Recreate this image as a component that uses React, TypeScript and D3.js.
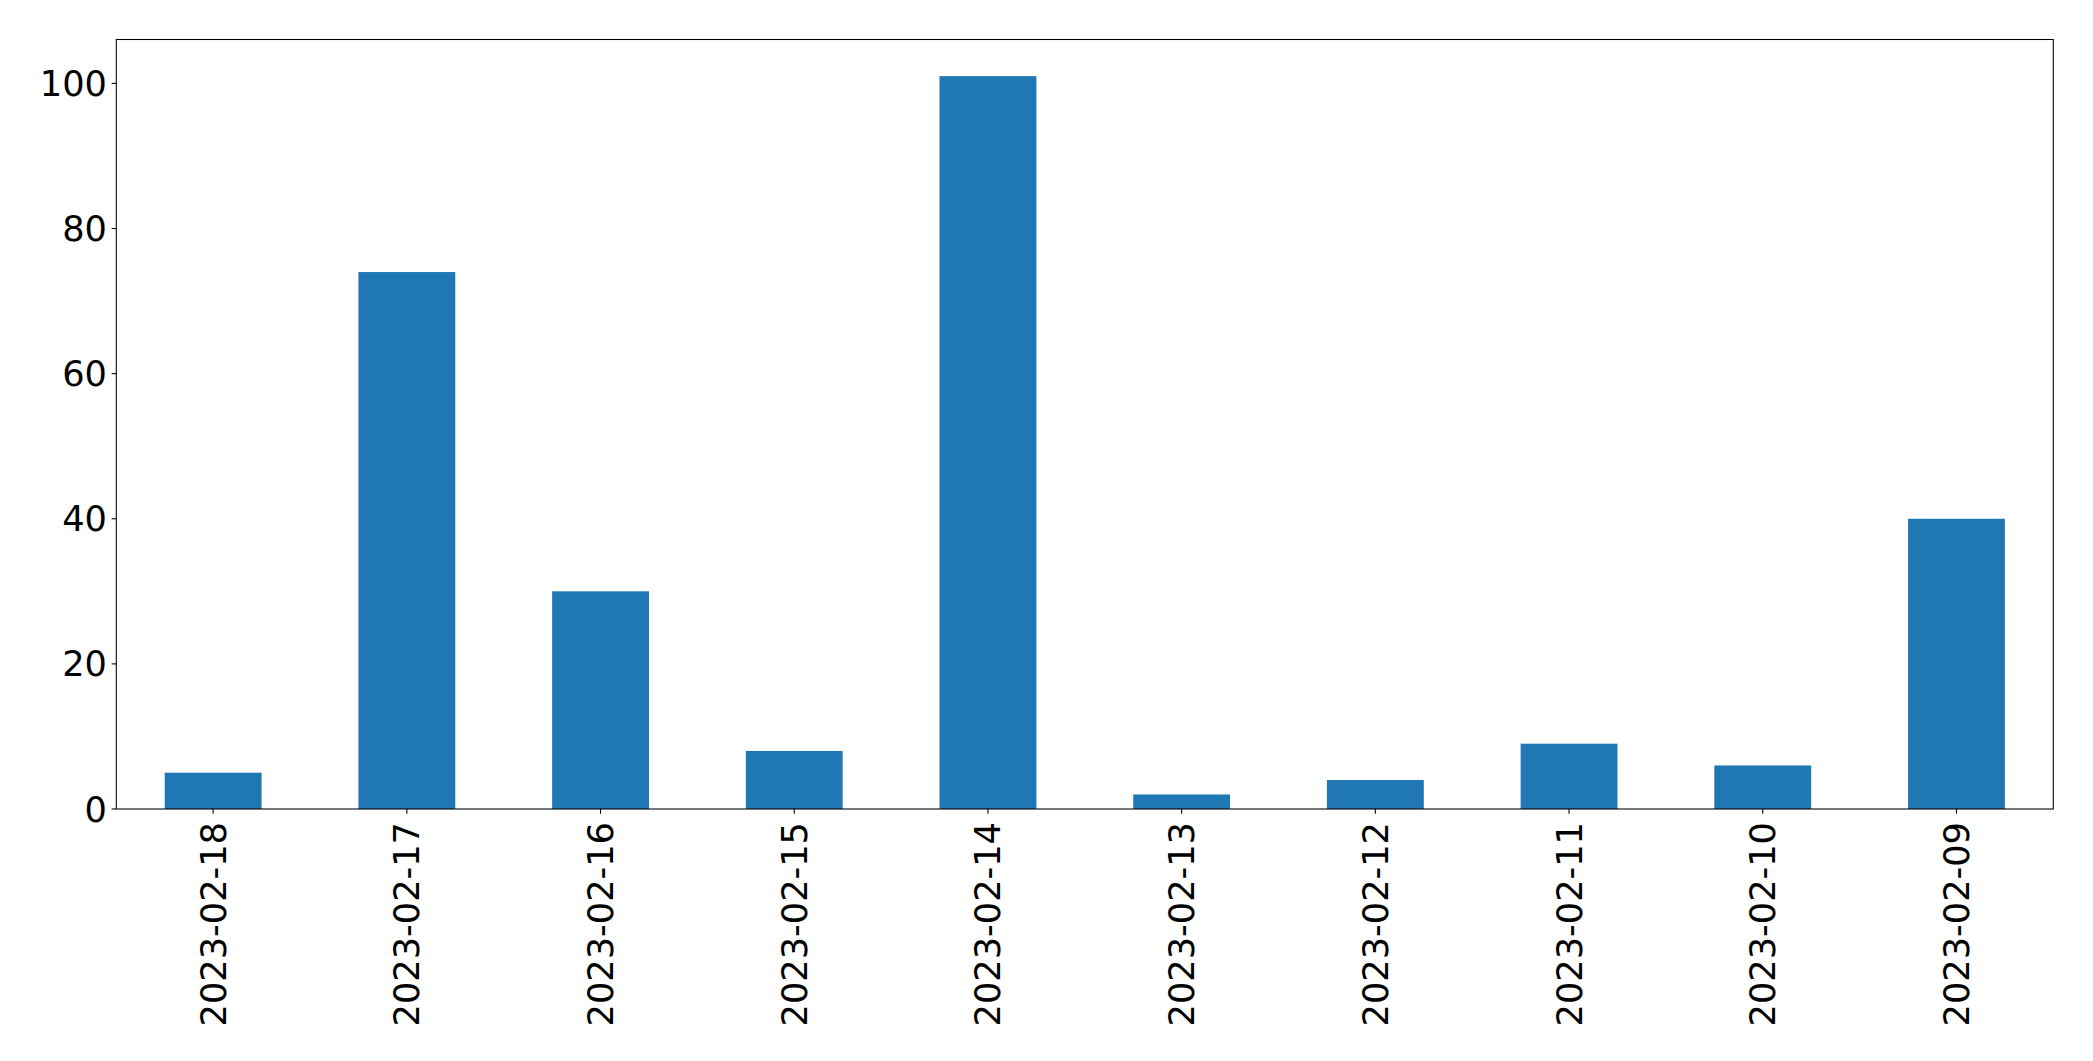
import React from "react";
import * as d3 from "d3";

const categories = [
  "2023-02-18", "2023-02-17", "2023-02-16", "2023-02-15", "2023-02-14",
  "2023-02-13", "2023-02-12", "2023-02-11", "2023-02-10", "2023-02-09",
];
const values = [5, 74, 30, 8, 101, 2, 4, 9, 6, 40];
const yTicks = [0, 20, 40, 60, 80, 100];

const W = 2093;
const H = 1061;
const left = 116.3;
const right = 2053.3;
const top = 39.5;
const bottom = 809;
const FONT = "'DejaVu Sans', sans-serif";
const FS = 35.2;

export default function App() {
  const x = d3.scaleLinear().domain([-0.5, categories.length - 0.5]).range([left, right]);
  const yMax = d3.max(values)! * 1.05;
  const y = d3.scaleLinear().domain([0, yMax]).range([bottom, top]);
  const bw = x(0.25) - x(-0.25);

  return (
    <svg width={W} height={H} style={{ position: "absolute", left: 0, top: 0, background: "#fff" }}>
      <rect x={0} y={0} width={W} height={H} fill="#fff" />
      {values.map((v, i) => (
        <rect key={i} x={x(i) - bw / 2} y={y(v)} width={bw} height={y(0) - y(v)} fill="#1f77b4" />
      ))}
      <rect x={left} y={top} width={right - left} height={bottom - top} fill="none" stroke="#000" strokeWidth={1.07} />
      {yTicks.map((t) => (
        <g key={t}>
          <line x1={left - 4.67} x2={left} y1={y(t)} y2={y(t)} stroke="#000" strokeWidth={1.07} />
          <text x={left - 9.3} y={y(t)} textAnchor="end" dominantBaseline="central" fontFamily={FONT} fontSize={FS} fill="#000">
            {t}
          </text>
        </g>
      ))}
      {categories.map((c, i) => (
        <g key={c}>
          <line x1={x(i)} x2={x(i)} y1={bottom} y2={bottom + 4.67} stroke="#000" strokeWidth={1.07} />
          <text
            transform={`translate(${x(i)},${bottom + 13}) rotate(-90)`}
            textAnchor="end"
            dominantBaseline="central"
            fontFamily={FONT}
            fontSize={FS}
            fill="#000"
          >
            {c}
          </text>
        </g>
      ))}
    </svg>
  );
}
